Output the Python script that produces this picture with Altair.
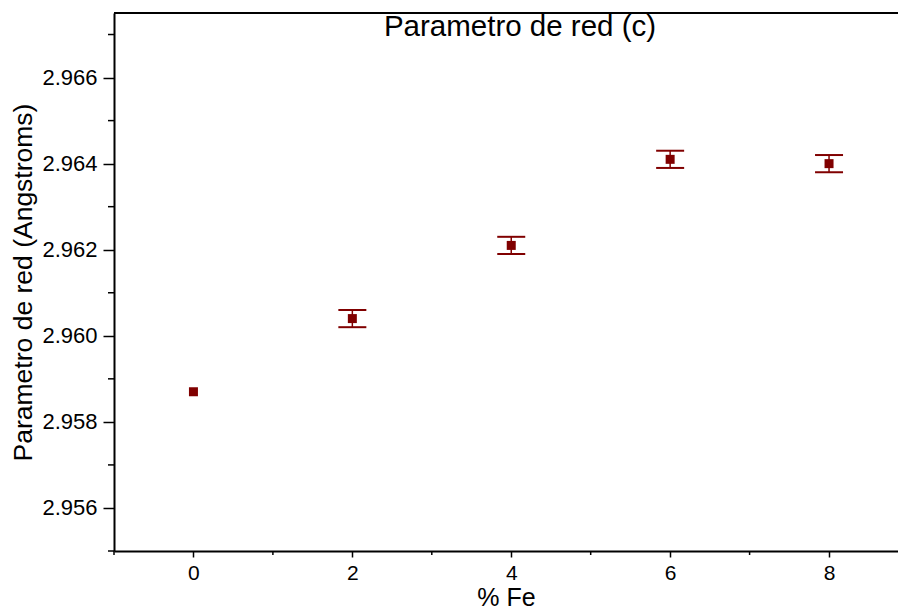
import altair as alt
import pandas as pd

# ---- data ----
fe = [0, 2, 4, 6, 8]
c_param = [2.9587, 2.9604, 2.9621, 2.9641, 2.9640]
c_err = [0.0, 0.0002, 0.0002, 0.0002, 0.0002]

x_major = [0, 2, 4, 6, 8]
x_minor = [-1, 1, 3, 5, 7]
y_major = [2.956, 2.958, 2.960, 2.962, 2.964, 2.966]
y_minor = [2.955, 2.957, 2.959, 2.961, 2.963, 2.965, 2.967]

title_text = "Parametro de red (c)"
x_title = "% Fe"
y_title = "Parametro de red (Angstroms)"

FONT = "Liberation Sans"
RED = "#800000"
W, H = 784, 538

df = pd.DataFrame({"fe": fe, "c": c_param, "err": c_err})
df["lo"] = df["c"] - df["err"]
df["hi"] = df["c"] + df["err"]
df_err = df[df["err"] > 0]

xscale = alt.Scale(domain=[-1, 8.868], nice=False, zero=False)
yscale = alt.Scale(domain=[2.955, 2.9675], nice=False, zero=False)

xaxis = alt.Axis(
    values=x_major, format="d", title=x_title, grid=False,
    tickSize=6, tickWidth=1.5, tickColor="black",
    domainColor="black", domainWidth=2,
    labelFont=FONT, labelFontSize=21, labelColor="black", labelPadding=5,
    titleFont=FONT, titleFontSize=25, titleFontWeight="normal", titleColor="black",
    titlePadding=2,
)
yaxis = alt.Axis(
    values=y_major, format=".3f", title=y_title, grid=False,
    tickSize=11, tickWidth=1.5, tickColor="black",
    domainColor="black", domainWidth=2,
    labelFont=FONT, labelFontSize=22, labelColor="black", labelPadding=6,
    titleFont=FONT, titleFontSize=26.5, titleFontWeight="normal", titleColor="black",
    titlePadding=4,
)

base = alt.Chart(df)

points = base.mark_square(size=81, color=RED, opacity=1).encode(
    x=alt.X("fe:Q", scale=xscale, axis=xaxis),
    y=alt.Y("c:Q", scale=yscale, axis=yaxis),
)

stems = alt.Chart(df_err).mark_rule(color=RED, strokeWidth=1.5).encode(
    x="fe:Q", y="lo:Q", y2="hi:Q"
)
cap_lo = alt.Chart(df_err).mark_tick(color=RED, size=28, thickness=2, orient="horizontal", opacity=1).encode(
    x="fe:Q", y="lo:Q"
)
cap_hi = alt.Chart(df_err).mark_tick(color=RED, size=28, thickness=2, orient="horizontal", opacity=1).encode(
    x="fe:Q", y="hi:Q"
)

ymin_df = pd.DataFrame({"v": y_minor})
xmin_df = pd.DataFrame({"v": x_minor})
y_minor_ticks = alt.Chart(ymin_df).mark_rule(color="black", strokeWidth=1.5).encode(
    y="v:Q", x=alt.value(-6), x2=alt.value(0)
)
x_minor_ticks = alt.Chart(xmin_df).mark_rule(color="black", strokeWidth=1.5).encode(
    x="v:Q", y=alt.value(H), y2=alt.value(H + 4)
)

top_line = alt.Chart(pd.DataFrame({"a": [0]})).mark_rule(color="black", strokeWidth=2).encode(
    x=alt.value(0), x2=alt.value(W), y=alt.value(0)
)

title_mark = alt.Chart(pd.DataFrame({"t": [title_text]})).mark_text(
    font=FONT, fontSize=29.5, color="black", align="center", baseline="alphabetic"
).encode(
    text="t:N", x=alt.value(406), y=alt.value(23)
)

chart = alt.layer(
    stems, cap_lo, cap_hi, points, y_minor_ticks, x_minor_ticks, top_line, title_mark
).properties(
    width=W, height=H,
    autosize=alt.AutoSizeParams(type="none"),
    padding={"left": 114, "top": 13, "right": 0, "bottom": 60},
    background="white",
).configure_view(stroke=None)

chart.save("out.html", embed_options={"renderer": "svg", "actions": False})
